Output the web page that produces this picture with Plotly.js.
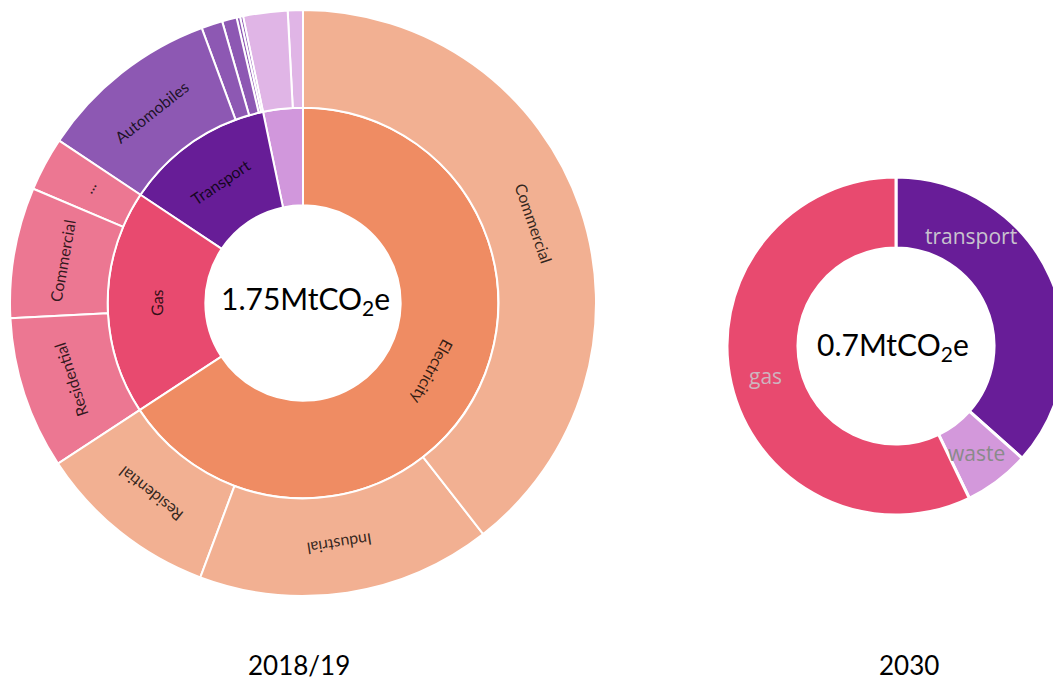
<!DOCTYPE html>
<html>
<head>
<meta charset="utf-8">
<script src="https://cdn.plot.ly/plotly-3.0.1.min.js"></script>
<style>
html,body{margin:0;padding:0;overflow:hidden;background:#fff;}
#chart{width:1100px;height:682px;}
</style>
</head>
<body>
<div id="chart"></div>
<script>
// ---------------- DATA ----------------
// 2018/19 emissions (MtCO2e), sectors in clockwise order from 12 o'clock
const sectors = ['Electricity', 'Gas', 'Transport', 'Waste'];
const elecLabels = ['Commercial', 'Industrial', 'Residential'];
const elecValues = [0.690, 0.284, 0.176];
const gasLabels = ['Residential', 'Commercial', '...'];
const gasValues = [0.147, 0.126, 0.052];
const transportLabels = ['Automobiles', 'Trucks', 'Buses', 'Rail', 'Aviation'];
const transportValues = [0.1755, 0.0204, 0.0141, 0.0034, 0.0029];
const wasteLabels = ['Landfill', 'Wastewater'];
const wasteValues = [0.0428, 0.0146];
const total2018Text = '1.75MtCO<sub>2</sub>e';
const year2018Text = '2018/19';

// 2030 emissions (MtCO2e), clockwise from 12 o'clock
const labels2030 = ['transport', 'waste', 'gas'];
const values2030 = [0.256, 0.044, 0.400];
const total2030Text = '0.7MtCO<sub>2</sub>e';
const year2030Text = '2030';

// ---------------- STYLE ----------------
const innerColors = {Electricity: '#EF8C63', Gas: '#E84A6F', Transport: '#671D97', Waste: '#D197DC'};
const outerColors = {Electricity: '#F2B092', Gas: '#EC7792', Transport: '#8D58B3', Waste: '#E0B5E6'};
const colors2030 = {transport: '#681D98', waste: '#D398DB', gas: '#E84A6F'};
const labelColors2030 = {transport: 'rgb(200,195,206)', waste: 'rgb(138,138,138)', gas: 'rgb(206,180,190)'};
const labelFrac2030 = {transport: 0.26, waste: 0.5, gas: 0.5};

const W = 1100, H = 682;
const sbCx = 303, sbCy = 303, sbR = 293;     // sunburst geometry (px)
const pieCx = 896, pieCy = 346, pieR = 169;  // donut geometry (px)
const pieHole = 0.58;

const children = {
  Electricity: [elecLabels, elecValues],
  Gas: [gasLabels, gasValues],
  Transport: [transportLabels, transportValues],
  Waste: [wasteLabels, wasteValues]
};

// ---------------- BUILD SUNBURST ----------------
let ids = [], labels = [], parents = [], values = [], colors = [];
const grand = sectors.reduce((s, k) => s + children[k][1].reduce((a, b) => a + b, 0), 0);

// clockwise node list with angles for labels
const nodes = [];
let angIn = 0;
sectors.forEach(sec => {
  const [cl, cv] = children[sec];
  const secVal = cv.reduce((a, b) => a + b, 0);
  const secSpan = secVal / grand * 360;
  nodes.push({ring: 0, label: sec, a0: angIn, a1: angIn + secSpan});
  let a = angIn;
  cl.forEach((lab, i) => {
    const span = cv[i] / grand * 360;
    nodes.push({ring: 1, label: lab, a0: a, a1: a + span});
    a += span;
  });
  angIn += secSpan;
});

// plotly sunburst runs counterclockwise -> feed in reverse order
const secRev = sectors.slice().reverse();
ids.push('root'); labels.push(''); parents.push(''); values.push(0); colors.push('#ffffff');
secRev.forEach(sec => {
  ids.push(sec); labels.push(sec); parents.push('root'); values.push(0); colors.push(innerColors[sec]);
});
secRev.forEach(sec => {
  const [cl, cv] = children[sec];
  for (let i = cl.length - 1; i >= 0; i--) {
    ids.push(sec + '/' + i); labels.push(cl[i]); parents.push(sec); values.push(cv[i]); colors.push(outerColors[sec]);
  }
});

const sunburst = {
  type: 'sunburst',
  ids: ids, labels: labels, parents: parents, values: values,
  branchvalues: 'remainder',
  sort: false,
  rotation: 90,
  textinfo: 'none',
  hoverinfo: 'label+value',
  leaf: {opacity: 1},
  marker: {colors: colors, line: {color: '#ffffff', width: 2}},
  domain: {
    x: [(sbCx - sbR) / W, (sbCx + sbR) / W],
    y: [(H - sbCy - sbR) / H, (H - sbCy + sbR) / H]
  }
};

const pie = {
  type: 'pie',
  labels: labels2030,
  values: values2030,
  sort: false,
  direction: 'clockwise',
  rotation: 0,
  hole: pieHole,
  textinfo: 'none',
  marker: {colors: labels2030.map(l => colors2030[l]), line: {color: '#ffffff', width: 3}},
  domain: {
    x: [(pieCx - pieR) / W, (pieCx + pieR) / W],
    y: [(H - pieCy - pieR) / H, (H - pieCy + pieR) / H]
  }
};

// ---------------- ANNOTATIONS ----------------
const ann = [];
const deg = Math.PI / 180;
function norm(a) { a = a % 360; if (a > 180) a -= 360; return a; }
const ringW = sbR / 3;
nodes.forEach(n => {
  const rMid = ringW * (n.ring + 1.5);
  const mid = (n.a0 + n.a1) / 2;
  const arcLen = (n.a1 - n.a0) * deg * rMid;
  if (arcLen < 40) return;
  const px = sbCx + rMid * Math.sin(mid * deg);
  const py = sbCy - rMid * Math.cos(mid * deg);
  ann.push({
    x: px / W, y: 1 - py / H, xref: 'paper', yref: 'paper',
    text: n.label, showarrow: false, textangle: norm(mid),
    xanchor: 'center', yanchor: 'middle',
    font: {family: 'Lato, sans-serif', size: 16, color: 'rgba(0,0,0,0.8)'}
  });
});

// donut labels
const tot30 = values2030.reduce((a, b) => a + b, 0);
let a30 = 0;
const rMid30 = pieR * (1 + pieHole) / 2;
labels2030.forEach((l, i) => {
  const span = values2030[i] / tot30 * 360;
  const ang = a30 + span * labelFrac2030[l];
  a30 += span;
  const px = pieCx + rMid30 * Math.sin(ang * deg);
  const py = pieCy - rMid30 * Math.cos(ang * deg);
  ann.push({
    x: px / W, y: 1 - py / H, xref: 'paper', yref: 'paper',
    text: l, showarrow: false, xanchor: 'center', yanchor: 'middle',
    font: {family: '"Open Sans", sans-serif', size: 21, color: labelColors2030[l]}
  });
});

// centre totals and year captions
ann.push({x: (sbCx + 2) / W, y: 1 - (sbCy - 3) / H, xref: 'paper', yref: 'paper', text: total2018Text,
  showarrow: false, xanchor: 'center', yanchor: 'middle',
  font: {family: 'Lato, sans-serif', size: 30, color: '#000'}});
ann.push({x: (pieCx - 3) / W, y: 1 - pieCy / H, xref: 'paper', yref: 'paper', text: total2030Text,
  showarrow: false, xanchor: 'center', yanchor: 'middle',
  font: {family: 'Lato, sans-serif', size: 30, color: '#000'}});
ann.push({x: 299 / W, y: 1 - 665 / H, xref: 'paper', yref: 'paper', text: year2018Text,
  showarrow: false, xanchor: 'center', yanchor: 'middle',
  font: {family: 'Lato, sans-serif', size: 26, color: '#000'}});
ann.push({x: 909 / W, y: 1 - 665 / H, xref: 'paper', yref: 'paper', text: year2030Text,
  showarrow: false, xanchor: 'center', yanchor: 'middle',
  font: {family: 'Lato, sans-serif', size: 26, color: '#000'}});

const layout = {
  width: W, height: H,
  margin: {l: 0, r: 0, t: 0, b: 0, pad: 0},
  paper_bgcolor: '#ffffff',
  showlegend: false,
  annotations: ann
};

Plotly.newPlot('chart', [sunburst, pie], layout, {displayModeBar: false, staticPlot: true});
</script>
</body>
</html>
